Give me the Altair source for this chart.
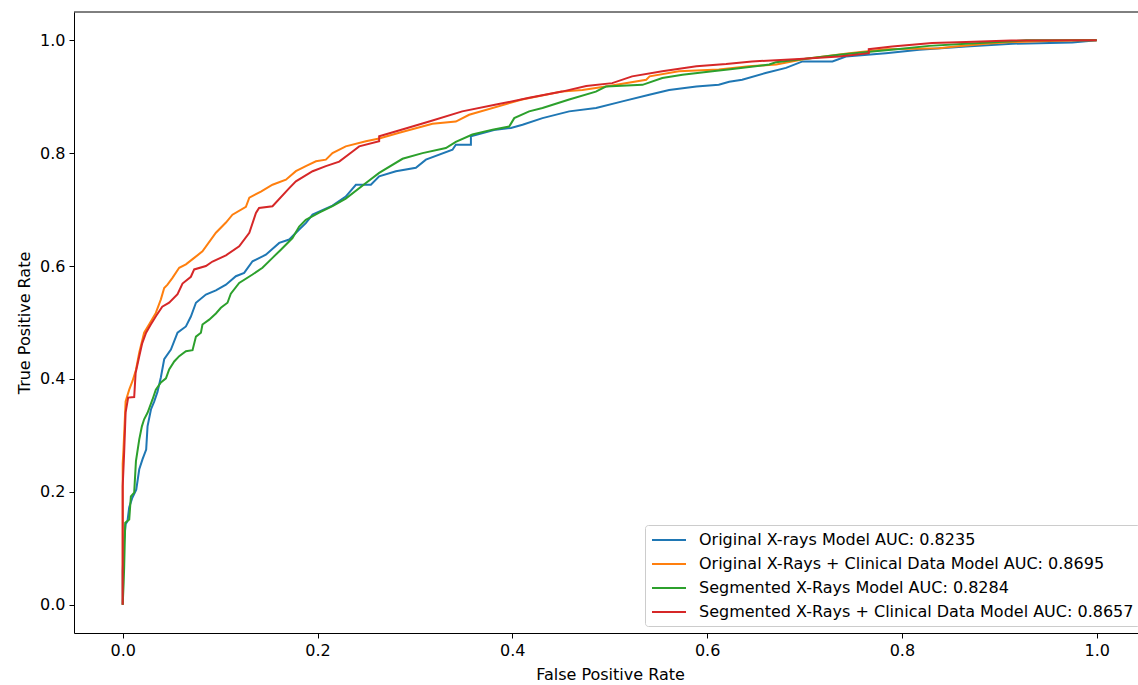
import altair as alt
import pandas as pd

# Legend labels and tab10 colours, in plotting order
MODELS = [
    "Original X-rays Model AUC: 0.8235",
    "Original X-Rays + Clinical Data Model AUC: 0.8695",
    "Segmented X-Rays Model AUC: 0.8284",
    "Segmented X-Rays + Clinical Data Model AUC: 0.8657",
]
COLORS = ["#1f77b4", "#ff7f0e", "#2ca02c", "#d62728"]

X_TICKS = [0.0, 0.2, 0.4, 0.6, 0.8, 1.0]
Y_TICKS = [0.0, 0.2, 0.4, 0.6, 0.8, 1.0]

# ROC points (false positive rate, true positive rate)
orig_xray = [
    (0, 0), (0, 0.06), (0.0015, 0.116), (0.003, 0.1425), (0.0049, 0.148),
    (0.0067, 0.173), (0.010, 0.190), (0.0139, 0.204), (0.017, 0.240),
    (0.0203, 0.2575), (0.0241, 0.275), (0.0255, 0.316), (0.029, 0.346),
    (0.0323, 0.360), (0.0357, 0.377), (0.0392, 0.403), (0.0426, 0.435),
    (0.0495, 0.452), (0.0563, 0.482), (0.0649, 0.493), (0.070, 0.5106),
    (0.0752, 0.535), (0.0854, 0.5496), (0.0957, 0.557), (0.106, 0.567),
    (0.1162, 0.582), (0.1247, 0.588), (0.1333, 0.6085), (0.147, 0.620),
    (0.1607, 0.641), (0.171, 0.647), (0.1812, 0.6646), (0.188, 0.676),
    (0.1949, 0.691), (0.2154, 0.707), (0.229, 0.723), (0.2394, 0.744),
    (0.2548, 0.744), (0.2633, 0.759), (0.2805, 0.768), (0.301, 0.774),
    (0.3113, 0.7885), (0.3386, 0.806), (0.342, 0.815), (0.3575, 0.815),
    (0.3575, 0.8297), (0.383, 0.8416), (0.3986, 0.8446), (0.4105, 0.8504),
    (0.431, 0.862), (0.4584, 0.874), (0.486, 0.880), (0.513, 0.8917),
    (0.5406, 0.9035), (0.561, 0.912), (0.589, 0.918), (0.612, 0.921),
    (0.6227, 0.9265), (0.636, 0.930), (0.660, 0.942), (0.681, 0.951),
    (0.698, 0.9625), (0.7287, 0.9625), (0.7425, 0.971), (0.7836, 0.977),
    (0.8178, 0.983), (0.8657, 0.989), (0.9135, 0.9938), (0.975, 0.996),
    (1.0, 1.0),
]

orig_clinical = [
    (0, 0), (0, 0.25), (0.0008, 0.275), (0.003, 0.360), (0.0067, 0.381),
    (0.010, 0.396), (0.0136, 0.416), (0.017, 0.447), (0.022, 0.482),
    (0.0272, 0.497), (0.034, 0.517), (0.0392, 0.541), (0.0426, 0.561),
    (0.046, 0.567), (0.0511, 0.579), (0.058, 0.597), (0.0649, 0.603),
    (0.0734, 0.6145), (0.0819, 0.626), (0.0957, 0.659), (0.106, 0.677),
    (0.1127, 0.691), (0.1265, 0.705), (0.130, 0.721), (0.1419, 0.732),
    (0.1538, 0.744), (0.1676, 0.753), (0.1778, 0.768), (0.188, 0.777),
    (0.1984, 0.7855), (0.2086, 0.7885), (0.2154, 0.800), (0.229, 0.812),
    (0.2497, 0.821), (0.2633, 0.826), (0.2839, 0.836), (0.318, 0.852),
    (0.342, 0.856), (0.3557, 0.868), (0.410, 0.895), (0.451, 0.909),
    (0.472, 0.912), (0.496, 0.918), (0.5375, 0.930), (0.541, 0.936),
    (0.571, 0.945), (0.612, 0.948), (0.643, 0.954), (0.671, 0.957),
    (0.7017, 0.967), (0.746, 0.977), (0.7836, 0.984), (0.838, 0.986),
    (0.855, 0.989), (0.8866, 0.9938), (0.913, 0.9968), (0.941, 0.998),
    (0.982, 1.0), (1.0, 1.0),
]

seg_xray = [
    (0, 0), (0.001, 0.04), (0.0015, 0.066), (0.0026, 0.1455), (0.0067, 0.151),
    (0.0084, 0.192), (0.0118, 0.1986), (0.0136, 0.2545), (0.017, 0.293),
    (0.0197, 0.316), (0.022, 0.3285), (0.0255, 0.340), (0.0306, 0.3637),
    (0.034, 0.381), (0.0392, 0.394), (0.0444, 0.401), (0.0477, 0.417),
    (0.0529, 0.431), (0.058, 0.4404), (0.0649, 0.449), (0.0717, 0.451),
    (0.0752, 0.475), (0.0803, 0.482), (0.0819, 0.4965), (0.0888, 0.505),
    (0.0957, 0.516), (0.1008, 0.526), (0.1076, 0.535), (0.111, 0.551),
    (0.1196, 0.570), (0.1333, 0.585), (0.1435, 0.597), (0.1538, 0.6145),
    (0.1624, 0.629), (0.1743, 0.6496), (0.1812, 0.670), (0.188, 0.682),
    (0.2017, 0.6947), (0.2154, 0.706), (0.229, 0.7195), (0.2497, 0.747),
    (0.2633, 0.765), (0.2873, 0.790), (0.3078, 0.800), (0.3318, 0.809),
    (0.342, 0.820), (0.359, 0.833), (0.3797, 0.8416), (0.3968, 0.847),
    (0.402, 0.862), (0.4173, 0.874), (0.431, 0.880), (0.4584, 0.895),
    (0.4858, 0.909), (0.496, 0.918), (0.5337, 0.921), (0.554, 0.933),
    (0.5747, 0.939), (0.6055, 0.945), (0.626, 0.949), (0.6638, 0.957),
    (0.6706, 0.961), (0.7014, 0.967), (0.7356, 0.9743), (0.7698, 0.980),
    (0.7972, 0.9844), (0.828, 0.990), (0.8657, 0.9938), (0.9136, 0.998),
    (0.9276, 1.0), (1.0, 1.0),
]

seg_clinical = [
    (0, 0), (0, 0.210), (0.0015, 0.270), (0.003, 0.341), (0.0056, 0.367),
    (0.0118, 0.368), (0.0133, 0.411), (0.017, 0.440), (0.020, 0.463),
    (0.024, 0.482), (0.0287, 0.496), (0.0344, 0.512), (0.0406, 0.528),
    (0.0477, 0.535), (0.0563, 0.550), (0.0614, 0.569), (0.070, 0.581),
    (0.0734, 0.594), (0.0854, 0.600), (0.0922, 0.608), (0.106, 0.619),
    (0.1196, 0.635), (0.130, 0.659), (0.1368, 0.694), (0.140, 0.703),
    (0.1538, 0.706), (0.171, 0.738), (0.1778, 0.750), (0.195, 0.768),
    (0.2086, 0.777), (0.2223, 0.785), (0.236, 0.803), (0.2428, 0.812),
    (0.2633, 0.821), (0.2633, 0.830), (0.287, 0.842), (0.3147, 0.856),
    (0.3486, 0.874), (0.3835, 0.886), (0.4174, 0.898), (0.451, 0.909),
    (0.4759, 0.919), (0.5026, 0.924), (0.523, 0.936), (0.554, 0.945),
    (0.589, 0.954), (0.6196, 0.958), (0.646, 0.9625), (0.6946, 0.9667),
    (0.7356, 0.971), (0.766, 0.977), (0.766, 0.984), (0.790, 0.989),
    (0.831, 0.995), (0.866, 0.997), (0.912, 0.9996), (1.0, 1.0),
]

SERIES = [orig_xray, orig_clinical, seg_xray, seg_clinical]

rows = []
for name, pts in zip(MODELS, SERIES):
    for i, (fpr, tpr) in enumerate(pts):
        rows.append({"model": name, "fpr": fpr, "tpr": tpr, "i": i})
df = pd.DataFrame(rows)

W, H = 1064, 621
PX_PER_UNIT = 974.0
FONT = "DejaVu Sans"
FS = 16

x_enc = alt.X(
    "fpr:Q",
    title="False Positive Rate",
    scale=alt.Scale(domain=[-0.05, -0.05 + W / PX_PER_UNIT], nice=False, zero=False),
    axis=alt.Axis(values=X_TICKS, format=".1f", titleX=536, titleY=41,
                  titleBaseline="middle"),
)
y_enc = alt.Y(
    "tpr:Q",
    title="True Positive Rate",
    scale=alt.Scale(domain=[-0.05, 1.05], nice=False, zero=False),
    axis=alt.Axis(values=Y_TICKS, format=".1f", titleX=-50, titleY=H / 2,
                  titleBaseline="middle", titleAngle=270),
)
color_enc = alt.Color(
    "model:N",
    sort=MODELS,
    scale=alt.Scale(domain=MODELS, range=COLORS),
    legend=alt.Legend(title=None, orient="none", legendX=571, legendY=513),
)

base = alt.Chart(df)
layers = []
for name in MODELS:
    layers.append(
        base.transform_filter(alt.datum.model == name)
        .mark_line(strokeWidth=2, interpolate="linear")
        .encode(x=x_enc, y=y_enc, color=color_enc, order=alt.Order("i:Q"))
    )

# top spine of the axes frame
top_spine = alt.Chart(alt.Data(values=[{}])).mark_rule(
    color="black", strokeWidth=1
).encode(x=alt.value(0), x2=alt.value(W), y=alt.value(0))

chart = (
    alt.layer(*layers, top_spine)
    .properties(
        width=W,
        height=H,
        autosize=alt.AutoSizeParams(type="none"),
        padding={"left": 74, "top": 12, "right": 0, "bottom": 52},
        background="white",
    )
    .configure_view(stroke=None)
    .configure_axis(
        grid=False,
        labelFont=FONT,
        labelFontSize=FS,
        labelColor="black",
        titleFont=FONT,
        titleFontSize=FS,
        titleFontWeight="normal",
        titleColor="black",
        domainColor="black",
        domainWidth=1,
        tickColor="black",
        tickWidth=1,
        tickSize=5,
        labelPadding=4,
    )
    .configure_legend(
        labelFont=FONT,
        labelFontSize=FS,
        labelColor="black",
        # short legend line drawn as a wide path on a small symbol footprint
        symbolType="M-1,0H3.25",
        symbolSize=256,
        symbolStrokeWidth=2,
        labelOffset=30,
        rowPadding=7,
        padding=6,
        fillColor="rgba(255,255,255,0.8)",
        strokeColor="#cccccc",
        cornerRadius=3,
        labelLimit=600,
    )
)

chart.save("out.html", embed_options={"renderer": "svg", "actions": False})
